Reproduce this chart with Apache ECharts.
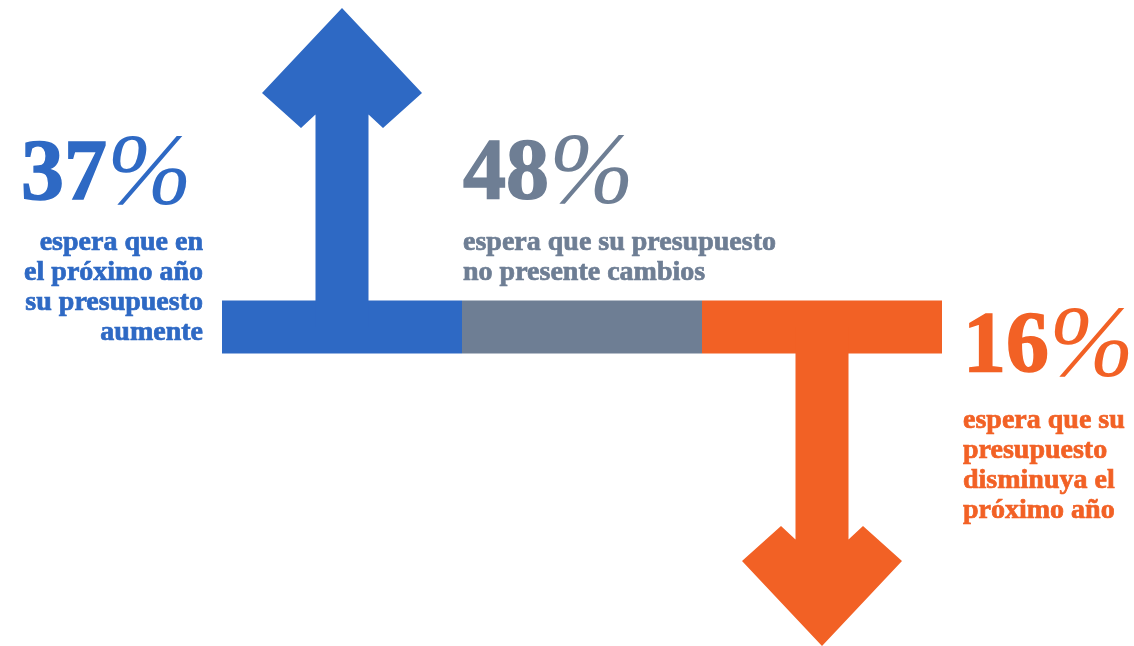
<!DOCTYPE html>
<html>
<head>
<meta charset="utf-8">
<script src="https://cdn.jsdelivr.net/npm/echarts@6/dist/echarts.min.js"></script>
<style>
  html, body { margin: 0; padding: 0; background: #ffffff; }
  #chart { width: 1134px; height: 646px; }
</style>
</head>
<body>
<div id="chart"></div>
<script>
// Budget expectations for next year: share of respondents per outcome
const categories = ['Aumenta', 'Sin cambios', 'Disminuye'];
const shares = [37, 48, 16];
// +1 = arrow up, 0 = no arrow, -1 = arrow down
const directions = [1, 0, -1];
const captions = [
  'espera que en\nel próximo año\nsu presupuesto\naumente',
  'espera que su presupuesto\nno presente cambios',
  'espera que su\npresupuesto\ndisminuya el\npróximo año'
];
const palette = ['#2E69C4', '#6E7E94', '#F26125'];

const SERIF = '"Liberation Serif", "DejaVu Serif", serif';
const BAR_HALF = 26.5;      // half thickness of the horizontal band
const SHAFT_HALF = 26.5;    // half width of the arrow shaft
const HEAD = { outerX: 80, outerY: 85, wingX: 41, wingY: 120, innerY: 106.5 };

function renderItem(params, api) {
  const idx = api.value(0);
  const dir = api.value(1);
  const share = api.value(2);
  const color = palette[idx];
  const center = api.coord([idx, 0]);
  const bandW = api.size([1, 0])[0];
  const cx = center[0], cy = center[1];
  const left = cx - bandW / 2, right = cx + bandW / 2;

  const children = [{
    type: 'rect',
    shape: { x: left, y: cy - BAR_HALF, width: bandW, height: BAR_HALF * 2 },
    style: { fill: color }
  }];

  if (dir !== 0) {
    const tip = api.coord([idx, dir]);
    const ty = tip[1];
    const s = dir > 0 ? 1 : -1; // screen direction from the tip back to the band
    children.push({
      type: 'polygon',
      shape: {
        points: [
          [cx, ty],
          [cx + HEAD.outerX, ty + s * HEAD.outerY],
          [cx + HEAD.wingX, ty + s * HEAD.wingY],
          [cx + SHAFT_HALF, ty + s * HEAD.innerY],
          [cx + SHAFT_HALF, cy],
          [cx - SHAFT_HALF, cy],
          [cx - SHAFT_HALF, ty + s * HEAD.innerY],
          [cx - HEAD.wingX, ty + s * HEAD.wingY],
          [cx - HEAD.outerX, ty + s * HEAD.outerY]
        ]
      },
      style: { fill: color }
    });
  }

  // Text placement: rising share sits left of its band, steady share above it,
  // falling share to the right of it.
  let px, pAlign, py, cxText, cAlign, cyText;
  if (dir > 0) {
    px = left - 30; pAlign = 'right'; py = cy - 150;
    cxText = left - 19; cAlign = 'right'; cyText = cy - 99;
  } else if (dir === 0) {
    px = left + 1; pAlign = 'left'; py = cy - 151;
    cxText = left + 1; cAlign = 'left'; cyText = cy - 99;
  } else {
    px = right + 21; pAlign = 'left'; py = cy + 22;
    cxText = right + 21; cAlign = 'left'; cyText = cy + 79;
  }

  children.push({
    type: 'text',
    style: {
      x: px, y: py, text: '{n|' + share + '}{p|%}',
      align: pAlign, verticalAlign: 'middle',
      rich: {
        n: { font: 'bold 86px ' + SERIF, fill: color, stroke: color, lineWidth: 1.5 },
        p: { font: 'italic 102px ' + SERIF, fill: color }
      }
    }
  });
  children.push({
    type: 'text',
    style: {
      x: cxText, y: cyText, text: captions[idx],
      align: cAlign, verticalAlign: 'top', lineHeight: 30,
      font: 'bold 28px ' + SERIF, fill: color,
      stroke: color, lineWidth: 0.7
    }
  });

  return { type: 'group', children: children };
}

const chart = echarts.init(document.getElementById('chart'), null, { renderer: 'canvas' });
chart.setOption({
  animation: false,
  grid: { left: 222, right: 192, top: 8, bottom: 0 },
  xAxis: { type: 'category', data: categories, show: false, boundaryGap: true },
  yAxis: { type: 'value', min: -1, max: 1, show: false },
  series: [{
    type: 'custom',
    renderItem: renderItem,
    clip: false,
    data: categories.map((c, i) => [i, directions[i], shares[i]])
  }]
});
</script>
</body>
</html>
